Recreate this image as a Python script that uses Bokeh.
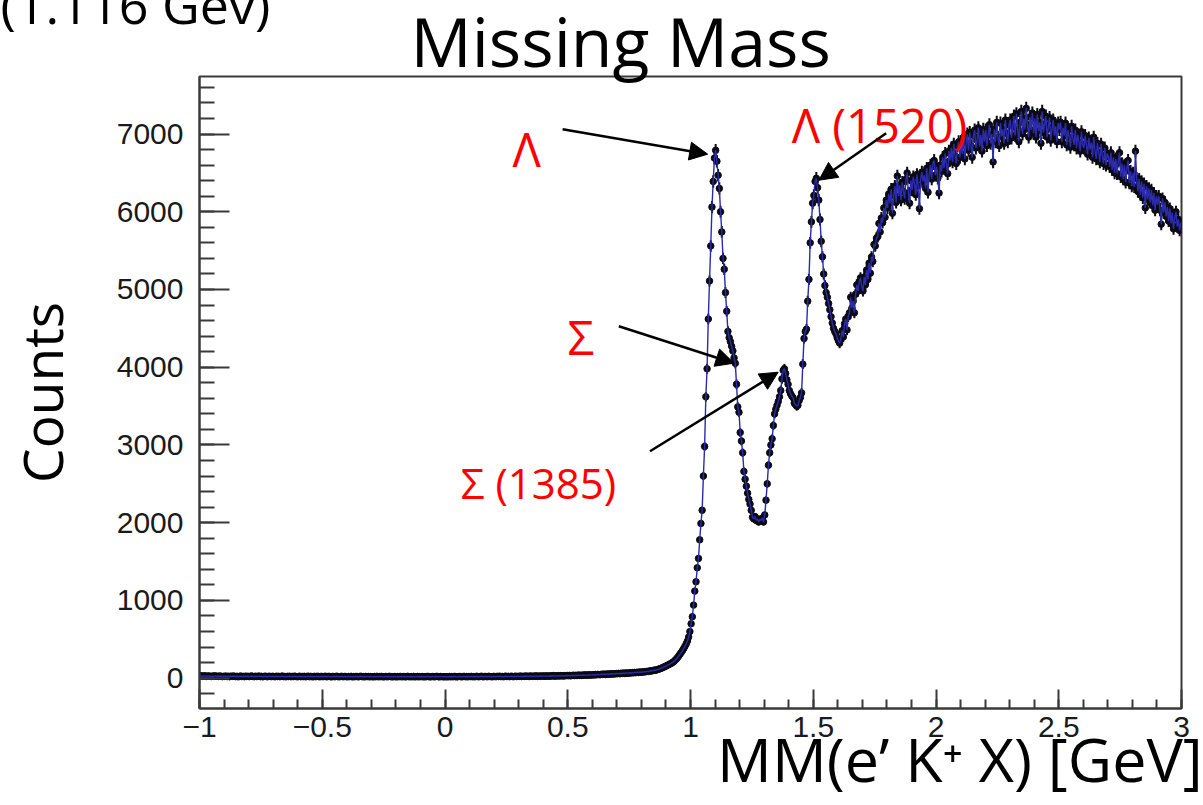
import numpy as np
from bokeh.plotting import figure
from bokeh.models import Label, Arrow, NormalHead, FixedTicker, ColumnDataSource, Range1d, Title
from bokeh.embed import file_html
from bokeh.resources import INLINE

# Missing-mass histogram: 800 bins of 5 MeV from -1 to 3 GeV
bin_lo, bin_hi, n_bins = -1.0, 3.0, 800

# -1.0 .. 0.9 GeV (flat, nearly empty region and threshold rise)
counts_low = [
    28, 31, 24, 27, 30, 22, 26, 29, 25, 21, 27, 24, 30, 23, 26, 22, 28, 25, 20, 24,
    23, 27, 21, 25, 19, 26, 22, 28, 24, 20, 25, 18, 23, 27, 21, 24, 19, 26, 22, 25,
    20, 24, 28, 22, 19, 25, 21, 23, 27, 20, 24, 18, 22, 26, 21, 19, 25, 23, 20, 24,
    22, 18, 25, 21, 24, 19, 23, 27, 20, 22, 18, 24, 21, 25, 19, 23, 20, 26, 22, 18,
    21, 25, 19, 23, 20, 24, 18, 22, 26, 19, 23, 21, 17, 24, 20, 22, 25, 18, 21, 23,
    19, 22, 25, 18, 21, 24, 20, 17, 23, 21, 19, 25, 22, 18, 20, 24, 21, 19, 23, 20,
    18, 22, 20, 24, 17, 21, 19, 23, 20, 18, 22, 25, 19, 21, 17, 23, 20, 22, 18, 21,
    20, 17, 22, 19, 24, 18, 21, 20, 23, 17, 19, 22, 20, 18, 24, 21, 19, 17, 22, 20,
    17, 21, 19, 23, 18, 20, 22, 17, 19, 24, 20, 18, 21, 19, 23, 17, 20, 22, 18, 21,
    19, 22, 17, 20, 18, 23, 21, 19, 17, 22, 20, 18, 21, 24, 19, 17, 22, 20, 18, 19,
    18, 20, 17, 22, 19, 21, 18, 23, 20, 17, 19, 22, 21, 18, 20, 24, 19, 21, 18, 22,
    20, 23, 19, 21, 18, 24, 22, 19, 21, 25, 20, 18, 23, 21, 19, 24, 22, 20, 18, 23,
    22, 19, 24, 21, 25, 20, 23, 19, 22, 26, 21, 24, 20, 23, 25, 19, 22, 26, 21, 24,
    23, 27, 21, 25, 22, 28, 24, 26, 21, 29, 25, 23, 27, 24, 30, 22, 26, 28, 25, 29,
    27, 24, 30, 26, 29, 25, 31, 28, 33, 26, 30, 29, 32, 27, 34, 30, 28, 33, 31, 35,
    32, 36, 30, 35, 38, 33, 37, 34, 40, 36, 39, 35, 41, 38, 43, 37, 40, 44, 39, 42,
    44, 41, 47, 43, 49, 46, 45, 51, 48, 53, 47, 52, 55, 50, 54, 57, 52, 58, 55, 60,
    58, 62, 57, 64, 61, 66, 60, 68, 65, 63, 70, 67, 72, 69, 74, 71, 77, 73, 79, 76,
    80, 78, 84, 82, 88, 86, 91, 95, 93, 99, 104, 101, 108, 113, 118, 124, 130, 137, 145, 152,
]

# 0.9 .. 1.2 GeV (Lambda and Sigma0)
counts_lambda = [
    160, 168, 176, 185, 193, 204, 216, 232, 248, 266, 288, 310, 332, 356, 382, 410, 442, 478, 530, 600,
    700, 790, 940, 1120, 1240, 1420, 1540, 1780, 1990, 2160, 2600, 2980, 3620, 3980, 4620, 5110, 5560, 6060, 6390, 6690,
    6790, 6650, 6470, 6300, 6000, 5740, 5400, 5260, 4960, 4720, 4460, 4380, 4330, 4270, 4210, 4120, 4050, 3780, 3490, 3420,
]

# 1.2 .. 1.5 GeV (Sigma(1385) region)
counts_sigma = [
    3160, 3050, 2900, 2660, 2560, 2470, 2380, 2300, 2240, 2160, 2070, 2050, 2080, 2030, 2050, 2010, 2040, 2030, 2060, 2010,
    2100, 2290, 2500, 2740, 2900, 3000, 3080, 3250, 3400, 3460, 3510, 3560, 3620, 3700, 3850, 3960, 3980, 3920, 3840, 3780,
    3700, 3660, 3630, 3610, 3540, 3520, 3500, 3510, 3570, 3610, 3670, 4040, 4370, 4460, 4490, 4850, 5130, 5600, 5870, 6110,
]

# 1.5 .. 1.8 GeV (Lambda(1520) region)
counts_l1520 = [
    6210, 6390, 6430, 6310, 6150, 5900, 5620, 5420, 5200, 5050, 4960, 4900, 4820, 4740, 4650, 4570, 4500, 4460, 4430, 4380,
    4340, 4310, 4360, 4470, 4390, 4560, 4620, 4480, 4650, 4700, 4900, 4760, 4850, 4700, 4940, 5060, 4980, 5100, 5150, 5040,
    4980, 5160, 5060, 5250, 5130, 5340, 5210, 5420, 5360, 5580, 5560, 5660, 5680, 5850, 5740, 5920, 5860, 6050, 5930, 6150,
]

# 1.8 .. 3.0 GeV (broad continuum)
counts_high = [
    6050, 6230, 6110, 6290, 5980, 6210, 6330, 6120, 6460, 6200, 6340, 6150, 6380, 6260, 6170, 6420, 6500, 6240, 6110, 6400,
    6280, 6450, 6360, 6220, 6480, 6330, 6040, 6430, 6510, 6390, 6470, 6300, 6560, 6250, 6480, 6600, 6420, 6620, 6660, 6470,
    6580, 6430, 6240, 6600, 6520, 6700, 6560, 6750, 6600, 6490, 6780, 6660, 6820, 6640, 6870, 6720, 6620, 6850, 6900, 6700,
    6900, 6740, 6960, 6680, 6880, 7000, 6790, 7020, 6850, 6700, 6980, 7050, 6820, 6920, 7080, 6840, 6990, 6780, 7060, 6900,
    7050, 6850, 6990, 7120, 6880, 7000, 6640, 7060, 6900, 7150, 6960, 6850, 7140, 6970, 7060, 6880, 7180, 7010, 6900, 7120,
    7180, 6950, 7100, 7230, 6980, 7260, 7060, 6900, 7150, 7290, 7000, 7200, 7060, 7330, 7120, 6960, 7220, 7050, 7270, 7010,
    7200, 6960, 7250, 7040, 7150, 6880, 7290, 7020, 7130, 7230, 6960, 7090, 7210, 6920, 7060, 7180, 6980, 7100, 6900, 7140,
    7060, 7150, 6900, 7080, 6980, 7140, 6860, 7050, 6960, 6830, 7100, 6940, 6860, 7050, 6820, 6990, 6900, 6780, 7030, 6860,
    6820, 6980, 6860, 6740, 6950, 6800, 6890, 6700, 6960, 6790, 6680, 6880, 6760, 6640, 6870, 6720, 6620, 6820, 6600, 6750,
    6710, 6580, 6760, 6540, 6700, 6500, 6680, 6490, 6650, 6760, 6450, 6620, 6420, 6600, 6380, 6560, 6660, 6370, 6520, 6330,
    6500, 6320, 6780, 6430, 6260, 6420, 6220, 6390, 6180, 6360, 6050, 6330, 6160, 6300, 6120, 6280, 6080, 6240, 6020, 6200,
    6090, 6200, 6020, 5840, 6170, 5990, 6120, 5940, 6060, 5880, 6040, 5850, 5990, 5780, 5920, 6000, 5810, 5900, 5760, 5860,
]

x_tick_values = [-1, -0.5, 0, 0.5, 1, 1.5, 2, 2.5, 3]
x_tick_labels = ["\u22121", "\u22120.5", "0", "0.5", "1", "1.5", "2", "2.5", "3"]
y_tick_values = [0, 1000, 2000, 3000, 4000, 5000, 6000, 7000]
y_tick_labels = ["0", "1000", "2000", "3000", "4000", "5000", "6000", "7000"]

# Resonance annotations
peak_names = ["\u039b", "\u039b (1520)", "\u03a3", "\u03a3 (1385)"]
peak_label_pos = [(0.333, 6805, "center", 47), (1.412, 7114, "left", 47),
                  (0.553, 4387, "center", 47), (0.064, 2521, "left", 42)]
peak_arrows = [(0.479, 7062, 1.070, 6741), (1.797, 7011, 1.523, 6406),
               (0.708, 4528, 1.177, 4052), (0.835, 2920, 1.357, 3936)]

counts = np.array(counts_low + counts_lambda + counts_sigma + counts_l1520 + counts_high, dtype=float)
width = (bin_hi - bin_lo) / n_bins
centers = bin_lo + (np.arange(n_bins) + 0.5) * width
err = np.sqrt(counts)

src = ColumnDataSource(dict(x=centers, y=counts, lo=counts - err, hi=counts + err))

SANS = "Open Sans"
AXIS_FONT = "Liberation Sans"
FRAME = "#3a3a3a"

p = figure(width=1203, height=805, x_range=Range1d(-1, 3), y_range=Range1d(-390, 7740),
           toolbar_location=None, output_backend="svg",
           min_border_left=199, min_border_right=22, min_border_top=76, min_border_bottom=97)
p.grid.visible = False
p.outline_line_color = FRAME
p.outline_line_width = 2

# Outer heading line, running off the top edge of the page
p.title.text = "(1.116 Gev)"
p.title.align = "left"
p.title.offset = -199
p.title.vertical_align = "top"
p.title.standoff = -76
p.title.text_font = SANS
p.title.text_font_size = "52px"
p.title.text_font_style = "normal"
p.title.text_color = "black"

# Main heading, sitting tight against the frame
p.add_layout(Title(text="Missing Mass", align="left", offset=211, vertical_align="top",
                   standoff=-24, text_font=SANS, text_font_size="68px",
                   text_font_style="normal", text_color="black"), "above")

minor_x = [round(v, 2) for v in np.arange(-1, 3.0001, 0.1)]
minor_y = list(range(-200, 7741, 200))
p.xaxis.ticker = FixedTicker(ticks=x_tick_values, minor_ticks=minor_x)
p.yaxis.ticker = FixedTicker(ticks=y_tick_values, minor_ticks=minor_y)
p.xaxis.major_label_overrides = dict(zip(x_tick_values, x_tick_labels))
p.yaxis.major_label_overrides = dict(zip(y_tick_values, y_tick_labels))

for ax in (p.xaxis, p.yaxis):
    ax.axis_line_color = FRAME
    ax.axis_line_width = 2
    ax.major_tick_line_color = FRAME
    ax.minor_tick_line_color = FRAME
    ax.major_tick_line_width = 2
    ax.minor_tick_line_width = 2
    ax.major_tick_out = 0
    ax.minor_tick_out = 0
    ax.major_label_text_font = AXIS_FONT
    ax.major_label_text_font_size = "30px"
    ax.major_label_text_color = "#1a1a1a"
    ax.axis_label_text_font = SANS
    ax.axis_label_text_font_style = "normal"
    ax.axis_label_text_color = "black"

p.xaxis.major_tick_in = 19
p.xaxis.minor_tick_in = 9
p.xaxis.major_label_standoff = 8
p.yaxis.major_tick_in = 30
p.yaxis.minor_tick_in = 15
p.yaxis.major_label_standoff = 16

# Axis titles: the x title is pushed to the right end with no-break spaces
p.yaxis.axis_label = "Counts"
p.yaxis.axis_label_text_font_size = "55px"
p.yaxis.axis_label_standoff = 35
p.xaxis.axis_label = "\u00a0" * 34 + "MM(e\u2019 K\u207a X) [GeV]"
p.xaxis.axis_label_text_font_size = "61px"
p.xaxis.axis_label_standoff = -23

# Data points with statistical error bars, joined by the curve
p.segment(x0="x", y0="lo", x1="x", y1="hi", source=src, line_color="#0b0b16", line_width=2)
p.scatter(x="x", y="y", source=src, size=6.5, fill_color="#0b0b16", line_color="#0b0b16")
p.line(x="x", y="y", source=src, line_color="#2b2bab", line_width=1.4)

for name, (lx, ly, align, fs), (x0, y0, x1, y1) in zip(peak_names, peak_label_pos, peak_arrows):
    p.add_layout(Label(x=lx, y=ly, text=name, text_font=SANS, text_font_size=f"{fs}px",
                       text_color="#ff0000", text_align=align, text_baseline="alphabetic"))
    p.add_layout(Arrow(x_start=x0, y_start=y0, x_end=x1, y_end=y1, line_color="black",
                       line_width=2.5,
                       end=NormalHead(size=18, fill_color="black", line_color="black")))

open("out.html", "w").write(file_html(p, INLINE))
